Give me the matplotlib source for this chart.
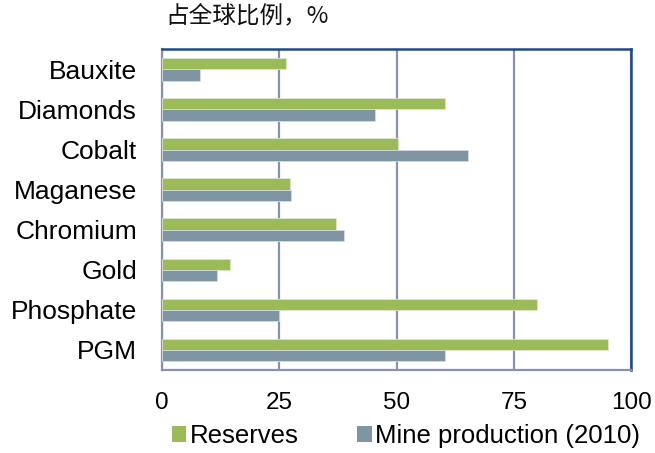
import matplotlib
matplotlib.use("Agg")
import matplotlib.pyplot as plt
import numpy as np
from matplotlib.patches import Patch

categories = ["Bauxite", "Diamonds", "Cobalt", "Maganese", "Chromium", "Gold", "Phosphate", "PGM"]
reserves = [26.4, 60.3, 50.4, 27.3, 37.1, 14.5, 79.9, 95.0]
mine_production = [8.2, 45.4, 65.3, 27.6, 38.7, 11.7, 25.0, 60.3]
series_names = ["Reserves", "Mine production (2010)"]
xticks = [0, 25, 50, 75, 100]
title = "占全球比例，%"

green = "#9BBB59"
slate = "#7F95A3"
grid_col = "#8892AD"
navy = "#1F4A8A"

plt.rcParams["font.family"] = ["Liberation Sans", "DejaVu Sans"]

fig = plt.figure(figsize=(6.55, 4.53), dpi=100)
ax = fig.add_axes([0.2473, 0.1832, 0.9634 - 0.2473, 0.8912 - 0.1832])

y = np.arange(len(categories))
h = 0.28
ax.barh(y - h / 2, reserves, height=h, color=green, edgecolor="#DDE6CC", linewidth=0.6, zorder=3)
ax.barh(y + h / 2, mine_production, height=h, color=slate, edgecolor="#D5DCE2", linewidth=0.6, zorder=3)

ax.set_xlim(0, 100)
ax.set_ylim(len(categories) - 0.5, -0.5)
ax.set_yticks(y)
ax.set_yticklabels(categories, fontsize=19)
ax.set_xticks(xticks)
ax.set_xticklabels([str(t) for t in xticks], fontsize=17.5)
ax.tick_params(axis="y", length=0, pad=18)
ax.tick_params(axis="x", length=0, pad=16)

ax.xaxis.grid(True, color=grid_col, linewidth=1.6, zorder=1)
ax.set_axisbelow(True)

for side in ["left", "bottom"]:
    ax.spines[side].set_color(grid_col)
    ax.spines[side].set_linewidth(1.6)
for side in ["top", "right"]:
    ax.spines[side].set_color(navy)
    ax.spines[side].set_linewidth(1.8)

fig.text(165 / 655, 1 - 17 / 453, title, fontsize=17, va="center", ha="left",
         family=["Noto Sans CJK SC", "DejaVu Sans"], color="#111111")

handles = [Patch(facecolor=green, edgecolor="none"), Patch(facecolor=slate, edgecolor="none")]
fig.legend(handles, series_names, loc="center", bbox_to_anchor=(406 / 655, 1 - 436 / 453),
           ncol=2, frameon=False, fontsize=18.5, handlelength=0.55, handleheight=0.6,
           handletextpad=0.15, columnspacing=2.3, borderaxespad=0)

fig.savefig("out.png", dpi=100)
